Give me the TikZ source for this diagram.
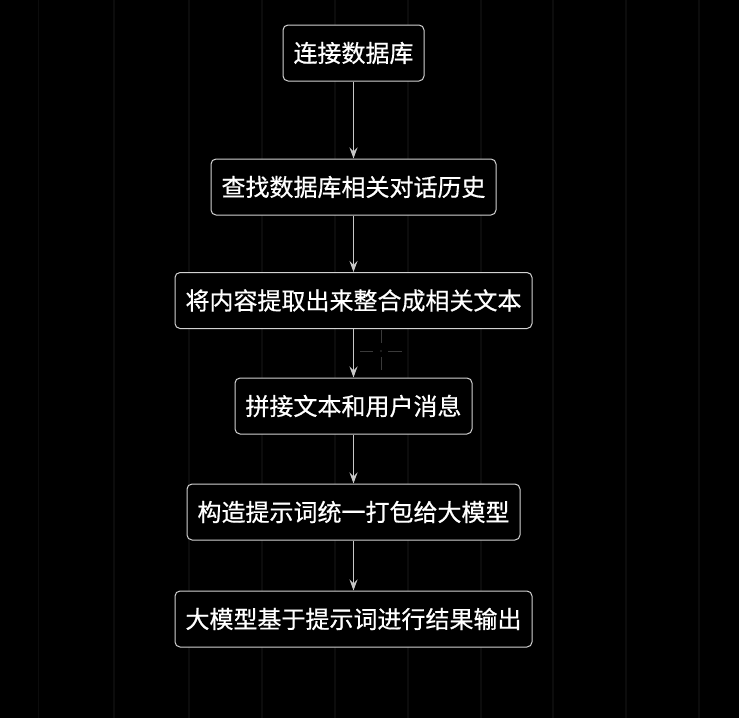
\documentclass[tikz,border=0pt]{standalone}
\usepackage{fontspec}
\setmainfont[FakeBold=0.6]{Noto Sans CJK SC}
\usetikzlibrary{arrows.meta}
\definecolor{bordc}{HTML}{D2D2D2}
\definecolor{arrc}{HTML}{C8C8C8}
\definecolor{gridc}{HTML}{0C0C0C}
\definecolor{crossc}{HTML}{3A3A3A}
\tikzset{
  stepbox/.style={draw=bordc, line width=1pt, rounded corners=5pt, fill=black, text=white,
    minimum height=56pt, inner sep=0pt, font=\fontsize{24}{26}\selectfont},
  arr/.style={draw=arrc, line width=1.2pt, -{Stealth[length=11pt, width=8pt, inset=4pt]}},
  gridline/.style={draw=gridc, line width=1.2pt},
  crossline/.style={draw=crossc, line width=1pt}
}
\begin{document}
\begin{tikzpicture}[x=1pt,y=-1pt]
\useasboundingbox[fill=black] (0,0) rectangle (739,718);
\foreach \gx in {38.5,114,189,262,335,408,481,553,626,699}
  \draw[gridline] (\gx,0) -- (\gx,718);
% faint crosshair
\draw[crossline] (360,351) -- (373,351);
\draw[crossline] (388,351) -- (402,351);
\draw[crossline] (381,330) -- (381,343);
\draw[crossline] (381,357) -- (381,370);
\fill[crossc] (381,351) circle (0.8pt);

\node[stepbox, minimum width=141pt] (n1) at (353.5,53) {连接数据库};
\node[stepbox, minimum width=285pt] (n2) at (353.5,187) {查找数据库相关对话历史};
\node[stepbox, minimum width=357pt] (n3) at (353.5,300.5) {将内容提取出来整合成相关文本};
\node[stepbox, minimum width=237pt] (n4) at (353.5,406) {拼接文本和用户消息};
\node[stepbox, minimum width=333pt] (n5) at (353.5,512) {构造提示词统一打包给大模型};
\node[stepbox, minimum width=357pt] (n6) at (353.5,619) {大模型基于提示词进行结果输出};

\draw[arr] (n1) -- (n2);
\draw[arr] (n2) -- (n3);
\draw[arr] (n3) -- (n4);
\draw[arr] (n4) -- (n5);
\draw[arr] (n5) -- (n6);
\end{tikzpicture}
\end{document}
